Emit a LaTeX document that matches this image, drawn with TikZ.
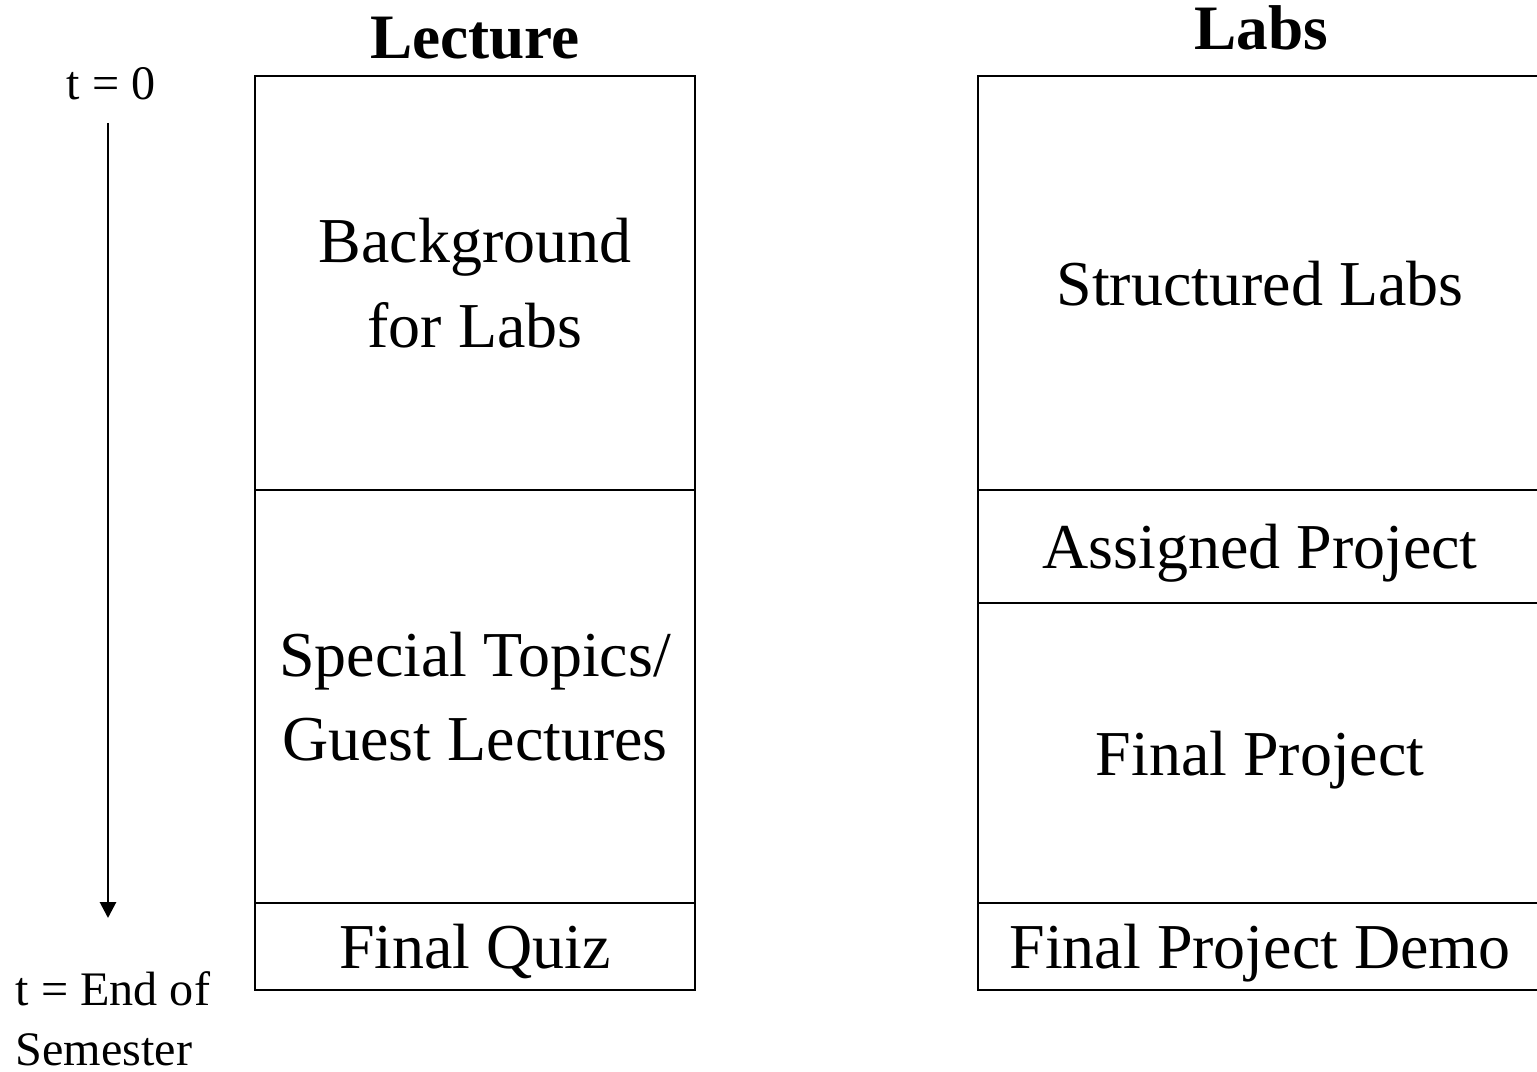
\documentclass[tikz,border=0pt]{standalone}
\usepackage{fontspec}
\setmainfont{Liberation Serif}
\usetikzlibrary{arrows.meta}

\begin{document}
\begin{tikzpicture}[font=\fontsize{18.2}{24}\selectfont,
	blk/.style={draw, line width=0.8pt, inner sep=0pt, outer sep=0pt, align=center},
	lec/.style={blk, minimum width=4.40cm},
	lab/.style={blk, minimum width=5.64cm},
	one/.style={text depth=0pt},
	hdr/.style={anchor=base, font=\fontsize{18}{22}\selectfont\bfseries},
	tlbl/.style={inner sep=0pt, font=\fontsize{13.7}{17}\selectfont}]
	\path[use as bounding box, clip] (0,0) rectangle (15.37,-10.71);

	\node[hdr] (lecT) at (4.75,-0.59) {Lecture};
	\node[hdr] (labT) at (12.61,-0.50) {Labs};

	\node[lec, minimum height=4.14cm] (bg) at (4.75,-2.83) {Background\\for Labs};
	\node[lec, minimum height=4.13cm] (sp) at (4.75,-6.965) {Special Topics/\\Guest Lectures};
	\node[lec, one, minimum height=0.87cm] (fq) at (4.75,-9.465) {Final Quiz};

	\node[lab, one, minimum height=4.14cm] (sl) at (12.60,-2.83) {Structured Labs};
	\node[lab, one, minimum height=1.13cm] (ap) at (12.60,-5.465) {Assigned Project};
	\node[lab, one, minimum height=3.00cm] (fp) at (12.60,-7.53) {Final Project};
	\node[lab, one, minimum height=0.87cm] (fd) at (12.60,-9.465) {Final Project Demo};

	\node[tlbl, anchor=base] (t0) at (1.11,-1.00) {t = 0};
	\node[tlbl, anchor=base west, align=left] (tE) at (0.15,-10.65) {t = End of\\Semester};
	\coordinate (ts) at (1.08,-1.23);
	\coordinate (te) at (1.08,-9.18);

	\draw[line width=0.8pt, -{Triangle[length=1.6mm, width=1.6mm]}] (ts) -- (te);
\end{tikzpicture}
\end{document}
